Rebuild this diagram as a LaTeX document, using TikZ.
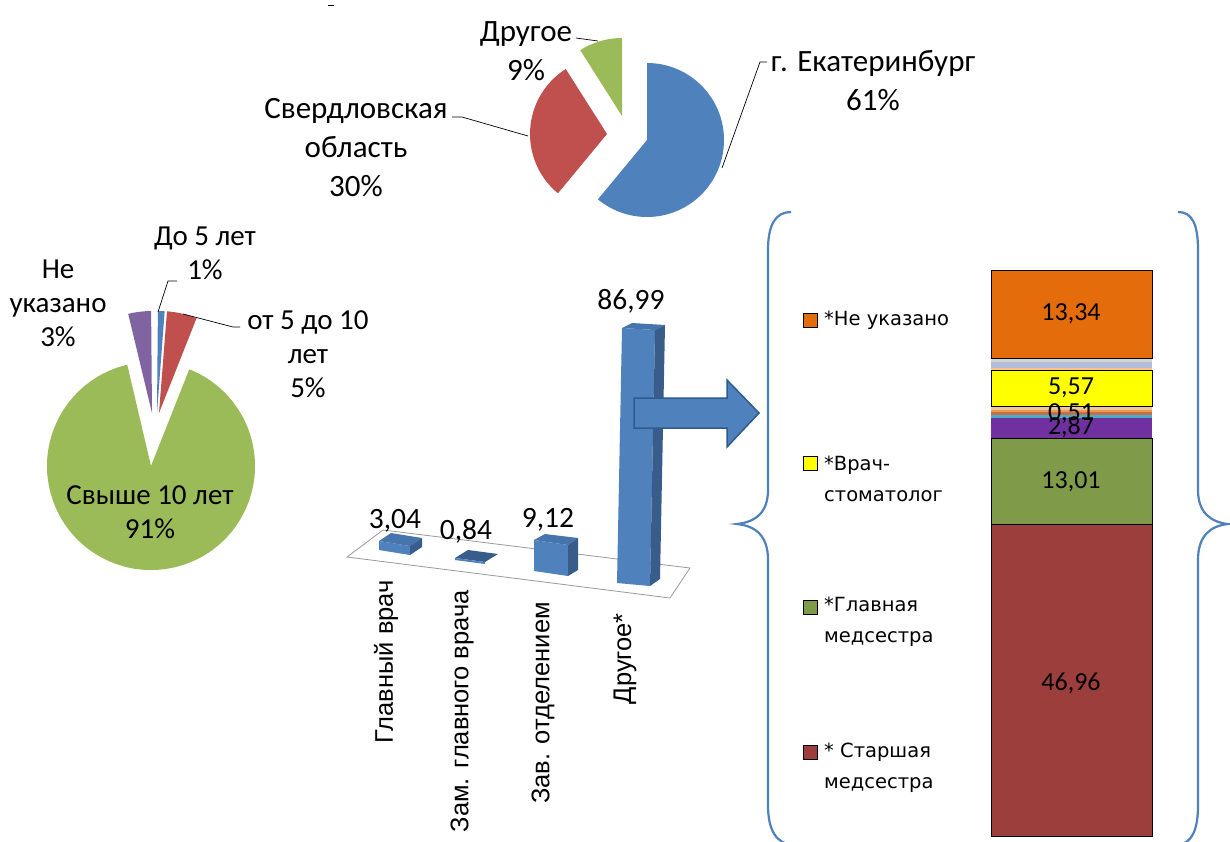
\documentclass[tikz,border=0pt]{standalone}
\usepackage{fontspec}
\setmainfont{Carlito}
\newfontfamily\arialf{Liberation Sans}
\newfontfamily\legf{DejaVu Sans}
\definecolor{pblue}{HTML}{4F81BD}
\definecolor{pred}{HTML}{C0504D}
\definecolor{pgreen}{HTML}{9BBB59}
\definecolor{ppurple}{HTML}{8064A2}
\definecolor{bside}{HTML}{385D8A}
\definecolor{btop}{HTML}{4674AD}
\definecolor{bedge}{HTML}{2F5C8F}
\definecolor{sorange}{HTML}{E46C0A}
\definecolor{syellow}{HTML}{FFFF00}
\definecolor{spurple}{HTML}{7030A0}
\definecolor{sgreen}{HTML}{7F9A48}
\definecolor{sred}{HTML}{9B3E3C}
\definecolor{steal}{HTML}{4BACC6}
\definecolor{sbrown}{HTML}{C0704A}
\definecolor{sorl}{HTML}{F79646}
\definecolor{stan}{HTML}{E6C8A8}
\definecolor{speach}{HTML}{FAC090}
\definecolor{slblue}{HTML}{B3BCD8}
\definecolor{sgray}{HTML}{D4D4D4}
\tikzset{
  toplbl/.style={inner sep=0pt, align=center, font=\fontsize{31}{39}\selectfont},
  leftlbl/.style={inner sep=0pt, align=center, font=\fontsize{29}{34}\selectfont},
  vallbl/.style={inner sep=0pt, font=\fontsize{29.5}{34}\selectfont},
  axlbl/.style={inner sep=0pt, rotate=90, anchor=east, font=\arialf\fontsize{25.5}{30}\selectfont},
  leglbl/.style={inner sep=0pt, align=left, anchor=west, font=\legf\fontsize{19.5}{31}\selectfont},
  legsq/.style={draw=black, line width=0.8pt, minimum size=14pt, inner sep=0pt},
  seglbl/.style={inner sep=0pt, font=\fontsize{26}{30}\selectfont},
  leader/.style={draw=black, line width=0.7pt},
  segbox/.style={draw=black, line width=0.8pt},
  bracepath/.style={draw=pblue, line width=2.2pt},
  floorline/.style={draw=gray!80, line width=0.8pt}
}
\begin{document}
\begin{tikzpicture}[x=1pt,y=-1pt]
\useasboundingbox (0,0) rectangle (1230,841);
\fill[white] (0,0) rectangle (1230,841);
% tiny dash at top
\coordinate (d1) at (328,5); \coordinate (d2) at (334,5);
\draw[line width=0.8pt] (d1) -- (d2);

% ---------- top pie ----------
\fill[pblue] (647,140) -- ++(-90:77) arc (-90:129.6:77) -- cycle;
\fill[pred] (607,134) -- ++(-122.4:77) arc (-122.4:-230.4:77) -- cycle;
\fill[pgreen] (622,116) -- ++(-90:78) arc (-90:-122.4:78) -- cycle;
\node[toplbl] (lo) at (526,51) {Другое\\9\%};
\node[toplbl] (lsv) at (356,148) {Свердловская\\область\\30\%};
\node[toplbl] (lek) at (873,81) {г. Екатеринбург\\61\%};
\coordinate (lo1) at (576,38); \coordinate (lo2) at (598,41);
\coordinate (ls1) at (452,117); \coordinate (ls2) at (462,117); \coordinate (ls3) at (528,136);
\coordinate (le1) at (767,62); \coordinate (le2) at (760,62); \coordinate (le3) at (722,168);
\draw[leader] (lo1) -- (lo2);
\draw[leader] (ls1) -- (ls2) -- (ls3);
\draw[leader] (le1) -- (le2) -- (le3);

% ---------- left pie ----------
\fill[pgreen] (151,466) -- ++(-103.2:104) arc (-103.2:-428.4:104) -- cycle;
\fill[pred] (159,413) -- ++(-68.4:102) arc (-68.4:-85.5:102) -- cycle;
\fill[pblue] (157,413) -- ++(-85.7:102) arc (-85.7:-89.5:102) -- cycle;
\fill[ppurple] (152,413) -- ++(-90.5:102) arc (-90.5:-103.5:102) -- cycle;
\node[leftlbl] (lne) at (58,303) {Не\\указано\\3\%};
\node[leftlbl] (ld5) at (205,253) {До 5 лет\\1\%};
\node[leftlbl] (l510) at (308,354) {от 5 до 10\\лет\\5\%};
\node[leftlbl] (l10) at (150,512) {Свыше 10 лет\\91\%};
\coordinate (a1) at (177,281); \coordinate (a2) at (168,281); \coordinate (a3) at (158,312);
\coordinate (b1) at (240,327); \coordinate (b2) at (233,327); \coordinate (b3) at (183,314);
\draw[leader] (a1) -- (a2) -- (a3);
\draw[leader] (b1) -- (b2) -- (b3);

% ---------- 3D bar chart ----------
\draw[floorline] (347,557) -- (383,530) -- (690,568) -- (670,598) -- cycle;
% bar 1
\fill[pblue] (379,541) -- (410,546) -- (410,555) -- (379,550) -- cycle;
\fill[btop] (379,541) -- (391,533) -- (422,538) -- (410,546) -- cycle;
\fill[bside] (410,546) -- (422,538) -- (422,547) -- (410,555) -- cycle;
% bar 2
\fill[bside] (455,558) -- (468,550) -- (498,554) -- (485,562) -- cycle;
\fill[pblue] (455,558) -- (485,562) -- (485,564) -- (455,560) -- cycle;
% bar 3
\fill[pblue] (534,540) -- (568,545) -- (568,576) -- (534,571) -- cycle;
\fill[btop] (534,540) -- (545,534) -- (578,538) -- (568,545) -- cycle;
\fill[bside] (568,545) -- (578,538) -- (578,570) -- (568,576) -- cycle;
% bar 4
\fill[pblue] (622,328) -- (655,330) -- (650,586) -- (617,583) -- cycle;
\fill[btop] (622,328) -- (632,323) -- (665,325) -- (655,330) -- cycle;
\fill[bside] (655,330) -- (665,325) -- (660,579) -- (650,586) -- cycle;
\node[vallbl] (v1) at (395,521) {3,04};
\node[vallbl] (v2) at (466,531) {0,84};
\node[vallbl] (v3) at (548,520) {9,12};
\node[vallbl] (v4) at (631,301) {86,99};
\node[axlbl] (x1) at (386,580) {Главный врач};
\node[axlbl] (x2) at (462,590) {Зам. главного врача};
\node[axlbl] (x3) at (543,602) {Зав. отделением};
\node[axlbl] (x4) at (625,613) {Другое*};

% ---------- block arrow ----------
\draw[fill=pblue, draw=bedge, line width=1.5pt, line join=miter]
  (634,398) -- (727,398) -- (727,380) -- (759,413) -- (727,447) -- (727,428) -- (634,428) -- cycle;

% ---------- braces ----------
\draw[bracepath] (791,212) .. controls (776,212) and (768,224) .. (768,250) -- (768,490)
  .. controls (768,512) and (756,522) .. (737,524) .. controls (756,526) and (768,536) .. (768,560)
  -- (768,805) .. controls (768,830) and (776,843) .. (792,845);
\draw[bracepath] (1178,212) .. controls (1192,212) and (1198,224) .. (1198,250) -- (1198,490)
  .. controls (1198,512) and (1210,522) .. (1228,524) .. controls (1210,526) and (1198,536) .. (1198,560)
  -- (1198,805) .. controls (1198,830) and (1192,843) .. (1178,845);

% ---------- stacked bar ----------
\fill[sred] (991,524) rectangle (1152,836);
\draw[segbox] (991,524) rectangle (1152,836);
\fill[sgreen] (991,438) rectangle (1152,524);
\draw[segbox] (991,438) rectangle (1152,524);
\fill[spurple] (991,418) rectangle (1152,438);
\fill[steal] (991,415) rectangle (1152,418);
\fill[sbrown] (991,412) rectangle (1152,415);
\fill[sorl] (991,409.5) rectangle (1152,412);
\fill[stan] (991,407) rectangle (1152,409.5);
\fill[syellow] (991,370.5) rectangle (1152,406.5);
\draw[segbox] (991,370.5) rectangle (1152,406.5);
\fill[speach] (991,367.5) rectangle (1152,370);
\fill[slblue] (991,362) rectangle (1152,367.5);
\fill[sgray] (991,359) rectangle (1152,362);
\fill[sorange] (991,270) rectangle (1152,358.5);
\draw[segbox] (991,270) rectangle (1152,358.5);
\node[seglbl] (s1) at (1071,314) {13,34};
\node[seglbl] (s2) at (1071,388) {5,57};
\node[seglbl] (s3) at (1071,414) {0,51};
\node[seglbl] (s4) at (1071,427) {2,87};
\node[seglbl] (s5) at (1071,482) {13,01};
\node[seglbl] (s6) at (1071,683) {46,96};

% ---------- legend ----------
\node[legsq, fill=sorange] (q1) at (810,320) {};
\node[legsq, fill=syellow] (q2) at (810,463) {};
\node[legsq, fill=sgreen] (q3) at (810,607) {};
\node[legsq, fill=sred] (q4) at (810,752) {};
\node[leglbl] (t1) at (824,320) {*Не указано};
\node[leglbl] (t2) at (824,478.5) {*Врач-\\стоматолог};
\node[leglbl] (t3) at (824,622) {*Главная\\медсестра};
\node[leglbl] (t4) at (824,767.5) {* Старшая\\медсестра};
\end{tikzpicture}
\end{document}
